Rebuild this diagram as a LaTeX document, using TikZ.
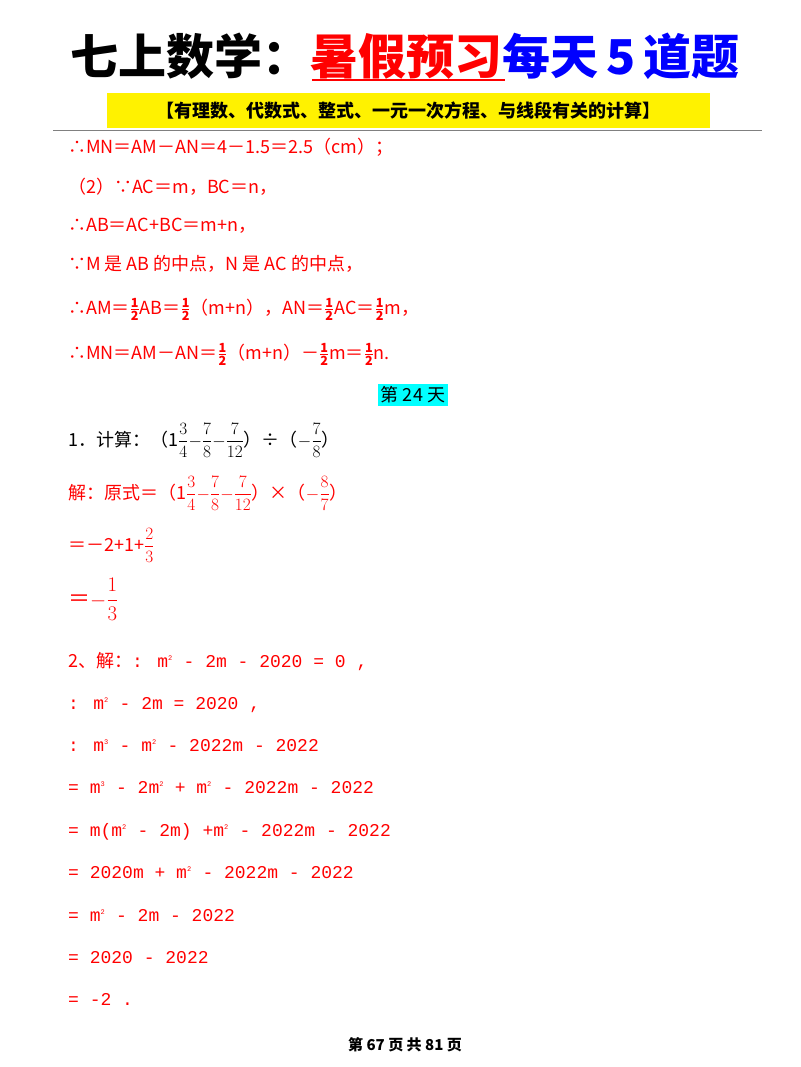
\documentclass[tikz,border=0pt]{standalone}
\usepackage{fontspec}
\usepackage{amsmath}
\setmainfont{Noto Sans CJK SC}
\newfontfamily\cjkb{Noto Sans CJK SC Black}
\newfontfamily\monof{Liberation Mono}
\definecolor{myred}{RGB}{255,0,0}
\definecolor{myblue}{RGB}{0,0,255}
\definecolor{mycyan}{RGB}{0,255,255}
\newcommand{\hf}[2]{$\frac{\mathbf{#1}}{\mathbf{#2}}$}
\newcommand{\df}[2]{$\dfrac{#1}{#2}$}
\newcommand{\sq}[1]{\textsuperscript{\scriptsize #1}}
\tikzset{
  body/.style={anchor=base west, inner sep=0pt, font=\fontsize{18}{18}\selectfont},
  redtext/.style={body, text=myred},
  monotext/.style={anchor=base west, inner sep=0pt, text=myred, font=\monof\fontsize{18}{18}\selectfont}
}
\begin{document}
\begin{tikzpicture}[x=1pt,y=-1pt]
			\useasboundingbox (0,0) rectangle (800,1067);
			% title
			\node [anchor=base west, inner sep=0pt, font=\cjkb\fontsize{48}{48}\selectfont] (title) at (70,75) {七上数学：\textcolor{myred}{暑假预习}\textcolor{myblue}{每天\,5\,道题}};
			\draw [myred, line width=1.5pt] (312,80) -- (505,80);
			\fill [yellow] (107,93) rectangle (710,128);
			\node [font=\bfseries\fontsize{18}{18}\selectfont, inner sep=0pt] (topic) at (408,111) {【有理数、代数式、整式、一元一次方程、与线段有关的计算】};
			\draw [gray, line width=1pt] (53,131) -- (762,131);
			% previous answer
			\node [redtext] (l1) at (68,154) {∴MN＝AM－AN＝4－1.5＝2.5（cm）；};
			\node [redtext] (l2) at (68,194) {（2）∵AC＝m，BC＝n，};
			\node [redtext] (l3) at (68,232) {∴AB＝AC+BC＝m+n，};
			\node [redtext] (l4) at (68,270) {∵M 是 AB 的中点，N 是 AC 的中点，};
			\node [redtext] (l5) at (68,314) {∴AM＝\hf12AB＝\hf12（m+n），AN＝\hf12AC＝\hf12m，};
			\node [redtext] (l6) at (68,359) {∴MN＝AM－AN＝\hf12（m+n）－\hf12m＝\hf12n.};
			% day
			\node [fill=mycyan, inner sep=3pt, font=\fontsize{18}{18}\selectfont] (day) at (413,395) {第 24 天};
			\node [body] (q1) at (68,446) {1．计算：（1\df34$-$\df78$-$\df7{12}）÷（$-$\df78）};
			\node [redtext] (a1) at (68,499) {解：原式＝（1\df34$-$\df78$-$\df7{12}）×（$-$\df87）};
			\node [redtext] (a2) at (68,551) {＝－2+1+\df23};
			\node [redtext, font=\fontsize{22}{22}\selectfont] (a3) at (68,606) {＝$-\dfrac{1}{3}$};
			% question 2
			\node [monotext] (b1) at (68,667) {{\rmfamily 2、解：}: m\sq2 - 2m - 2020 = 0 ,};
			\node [monotext] (b2) at (68,709) {: m\sq2 - 2m = 2020 ,};
			\node [monotext] (b3) at (68,751) {: m\sq3 - m\sq2 - 2022m - 2022};
			\node [monotext] (b4) at (68,793) {= m\sq3 - 2m\sq2 + m\sq2 - 2022m - 2022};
			\node [monotext] (b5) at (68,836) {= m(m\sq2 - 2m) +m\sq2 - 2022m - 2022};
			\node [monotext] (b6) at (68,878) {= 2020m + m\sq2 - 2022m - 2022};
			\node [monotext] (b7) at (68,921) {= m\sq2 - 2m - 2022};
			\node [monotext] (b8) at (68,963) {= 2020 - 2022};
			\node [monotext] (b9) at (68,1005) {= -2 .};
			\node [font=\bfseries\fontsize{15}{15}\selectfont] (page) at (405,1045) {第 67 页 共 81 页};
		\end{tikzpicture}
\end{document}
